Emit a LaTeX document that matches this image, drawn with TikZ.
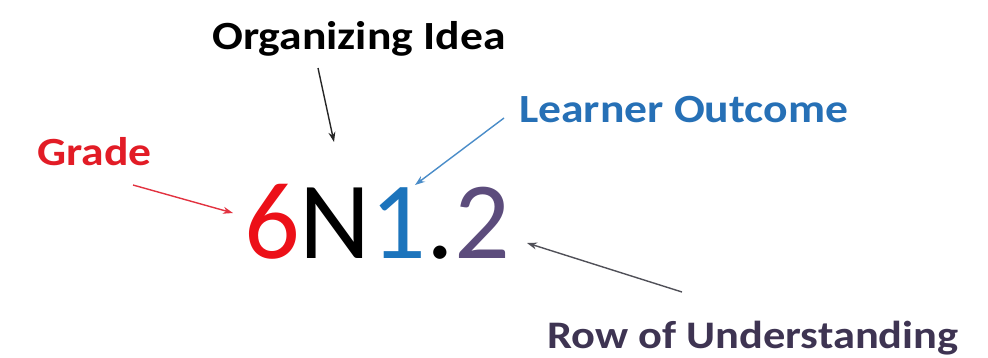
\documentclass[tikz,border=0pt]{standalone}
\usepackage{graphicx}
\usepackage{fontspec}
\setmainfont{Carlito}
\usetikzlibrary{arrows.meta}

\definecolor{gradered}{RGB}{226,28,38}
\definecolor{sixred}{RGB}{236,16,24}
\definecolor{outblue}{RGB}{38,112,182}
\definecolor{oneblue}{RGB}{28,116,188}
\definecolor{twopurple}{RGB}{92,76,124}
\definecolor{rowdark}{RGB}{62,52,82}
\definecolor{arrblue}{RGB}{74,140,200}
\definecolor{arrred}{RGB}{226,50,64}
\definecolor{arrgray}{RGB}{80,80,88}

% labels are set in a slightly widened bold face
\newcommand{\widetext}[1]{\scalebox{1.14}[1]{#1}}

\tikzset{
  label/.style={inner sep=0pt, anchor=base west, font=\bfseries\fontsize{40}{40}\selectfont},
  pointer/.style={line width=1.4pt, -{Stealth[length=10pt,width=7pt]}},
}

\begin{document}
\begin{tikzpicture}[x=1pt,y=-1pt]
  \useasboundingbox (0,0) rectangle (988,357);

  % labels around the code
  \node[label] (idea) at (212,49) {\widetext{Organizing Idea}};
  \node[label, text=outblue] (outcome) at (519,122) {\widetext{Learner Outcome}};
  \node[label, text=gradered] (grade) at (37,165) {\widetext{Grade}};
  \node[label, text=rowdark, font=\bfseries\fontsize{39}{39}\selectfont] (row) at (547,348) {\widetext{Row of Understanding}};

  % the outcome code itself
  \node[inner sep=0pt, anchor=base west, font=\fontsize{110}{110}\selectfont] (code) at (244,258)
    {\textcolor{sixred}{6}N\textcolor{oneblue}{1}.\textcolor{twopurple}{2}};

  % pointer end points
  \coordinate (ideaS) at (318,68);
  \coordinate (ideaE) at (334,142);
  \coordinate (outS) at (504,118);
  \coordinate (outE) at (415,185);
  \coordinate (gradeS) at (133,185);
  \coordinate (gradeE) at (233,213);
  \coordinate (rowS) at (682,292);
  \coordinate (rowE) at (527,243);

  \draw[pointer, draw=black!85] (ideaS) -- (ideaE);
  \draw[pointer, draw=arrblue] (outS) -- (outE);
  \draw[pointer, draw=arrred] (gradeS) -- (gradeE);
  \draw[pointer, draw=arrgray] (rowS) -- (rowE);
\end{tikzpicture}
\end{document}
